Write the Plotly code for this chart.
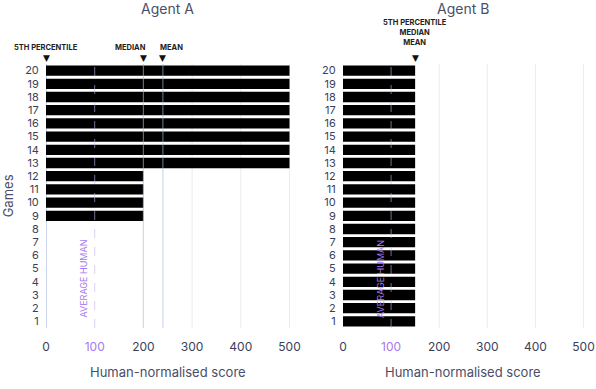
import plotly.graph_objects as go

# ---------------- data ----------------
games = list(range(1, 21))
agent_a_scores = [0, 0, 0, 0, 0, 0, 0, 0, 200, 200, 200, 200,
                  500, 500, 500, 500, 500, 500, 500, 500]
agent_b_scores = [150] * 20
agent_a_p5, agent_a_median, agent_a_mean = 0, 200, 240
agent_b_p5, agent_b_median, agent_b_mean = 150, 150, 150
average_human = 100
x_tickvals = [0, 100, 200, 300, 400, 500]
panel_titles = ["Agent A", "Agent B"]

# ---------------- style ----------------
TEXT = "#3b3f58"
PURPLE = "#a47af0"
GRID = "#ebebf0"
STAT = "#a9bde3"
FONT = "Inter"

fig = go.Figure()
fig.add_trace(go.Bar(x=agent_a_scores, y=games, orientation="h",
                     marker=dict(color="#000000", line=dict(width=0)),
                     xaxis="x", yaxis="y", showlegend=False))
fig.add_trace(go.Bar(x=agent_b_scores, y=games, orientation="h",
                     marker=dict(color="#000000", line=dict(width=0)),
                     xaxis="x2", yaxis="y2", showlegend=False))

ticktext = [f"<span style='color:{PURPLE}'>{v}</span>" if v == average_human else str(v)
            for v in x_tickvals]

xcommon = dict(range=[0, 501], tickvals=x_tickvals, ticktext=ticktext,
               showgrid=False, zeroline=False, showline=False, automargin=False,
               ticks="outside", ticklen=8, tickcolor="rgba(0,0,0,0)",
               ticklabeloverflow="allow",
               tickfont=dict(family=FONT, size=12, color=TEXT), fixedrange=True)
ycommon = dict(range=[0.5, 20.5], tickvals=games, showgrid=False, zeroline=False,
               showline=False, automargin=False, ticks="outside", ticklen=4,
               tickcolor="rgba(0,0,0,0)",
               tickfont=dict(family=FONT, size=11, color=TEXT))

fig.update_layout(
    width=596, height=389,
    margin=dict(l=46, r=12, t=64, b=61, autoexpand=False),
    paper_bgcolor="white", plot_bgcolor="white",
    bargap=0.22,
    xaxis=dict(domain=[0, 0.4535], anchor="y", **xcommon),
    xaxis2=dict(domain=[0.552, 1], anchor="y2", **xcommon),
    yaxis=dict(domain=[0, 1], anchor="x", **ycommon),
    yaxis2=dict(domain=[0, 1], anchor="x2", **ycommon),
    font=dict(family=FONT, color=TEXT),
)

shapes = []
# background grid lines
for xr, grids in (("x", [300, 400, 500]), ("x2", [200, 300, 400, 500])):
    for g in grids:
        shapes.append(dict(type="line", xref=xr, yref="paper", x0=g, x1=g, y0=0, y1=1,
                           line=dict(color=GRID, width=1), layer="below"))
# zero lines
shapes.append(dict(type="line", xref="x", yref="paper", x0=0, x1=0, y0=0, y1=1,
                   line=dict(color=STAT, width=1.2), layer="below"))
shapes.append(dict(type="line", xref="x2", yref="paper", x0=0, x1=0, y0=0, y1=1,
                   line=dict(color=GRID, width=1), layer="below"))
# stat lines agent A
for v in (agent_a_median, agent_a_mean):
    shapes.append(dict(type="line", xref="x", yref="paper", x0=v, x1=v, y0=0, y1=1,
                       line=dict(color=STAT, width=1.2), layer="above", opacity=0.55))
# average human dashed lines
for xr in ("x", "x2"):
    shapes.append(dict(type="line", xref=xr, yref="paper", x0=average_human, x1=average_human,
                       y0=0, y1=1, line=dict(color="#c9b6f2", width=1, dash="dash"),
                       layer="above", opacity=0.6))
fig.update_layout(shapes=shapes)

ann = []
mid = dict(xanchor="center", yanchor="middle", showarrow=False)
# titles
for xr, t in (("x", panel_titles[0]), ("x2", panel_titles[1])):
    ann.append(dict(text=t, xref=f"{xr} domain", yref="paper", x=0.5, y=1.210,
                    font=dict(family=FONT, size=14, color="#4a4e68"), **mid))
    ann.append(dict(text="Human-normalised score", xref=f"{xr} domain", yref="paper",
                    x=0.5, y=-0.167,
                    font=dict(family=FONT, size=13, color="#4a4e68"), **mid))
ann.append(dict(text="Games", xref="paper", yref="paper", x=-0.070, y=0.5,
                textangle=-90, font=dict(family=FONT, size=13, color="#4a4e68"), **mid))

lab_font = dict(family=FONT, size=7.5, color="#222222")
# agent A stat labels
ann.append(dict(text="<b>5TH PERCENTILE</b>", xref="x", yref="paper", x=agent_a_p5,
                y=1.061, font=lab_font, **mid))
ann.append(dict(text="<b>MEDIAN</b>", xref="x", yref="paper", x=agent_a_median,
                y=1.061, xanchor="right", yanchor="middle", xshift=5, showarrow=False,
                font=lab_font))
ann.append(dict(text="<b>MEAN</b>", xref="x", yref="paper", x=agent_a_mean,
                y=1.061, xanchor="left", yanchor="middle", xshift=-5, showarrow=False,
                font=lab_font))
tri_font = dict(family="DejaVu Sans", size=9, color="#111111")
for v in (agent_a_p5, agent_a_median, agent_a_mean):
    ann.append(dict(text="▼", xref="x", yref="paper", x=v, y=1.022, font=tri_font, **mid))
# agent B stat labels
ann.append(dict(text="<b>5TH PERCENTILE</b><br><b>MEDIAN</b><br><b>MEAN</b>",
                xref="x2", yref="paper", x=agent_b_p5, y=1.121, font=lab_font, **mid))
ann.append(dict(text="▼", xref="x2", yref="paper", x=agent_b_mean, y=1.022,
                font=tri_font, **mid))
# average human labels
for xr, sh in (("x", -11), ("x2", -10)):
    ann.append(dict(text="AVERAGE HUMAN", xref=xr, yref="paper", x=average_human,
                    xshift=sh, y=0.186, textangle=-90,
                    font=dict(family=FONT, size=9, color=PURPLE), **mid))
fig.update_layout(annotations=ann)

fig.write_html("out.html", config={"displayModeBar": False},
               post_script="document.body.style.margin='0';document.body.style.overflow='hidden';")
